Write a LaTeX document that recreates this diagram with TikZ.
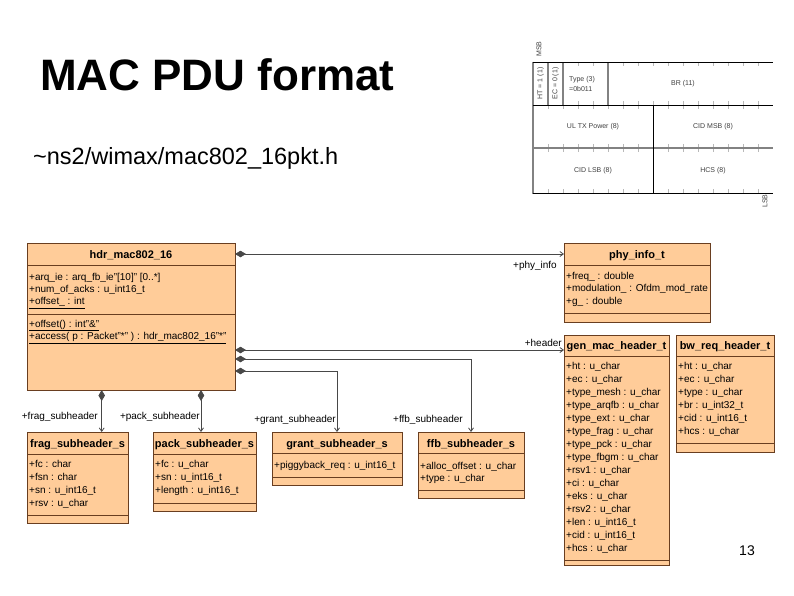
\documentclass[tikz,border=0pt]{standalone}
\usepackage{fontspec}
\setmainfont{Liberation Sans}
\usetikzlibrary{arrows.meta}
\definecolor{umlfill}{RGB}{255,204,153}
\definecolor{umlline}{RGB}{105,62,32}
\definecolor{conn}{RGB}{72,72,72}
\definecolor{gridgray}{RGB}{130,130,130}
\definecolor{tickgray}{RGB}{185,185,185}
\begin{document}
\begin{tikzpicture}[x=1pt,y=-1pt,
  classbox/.style={draw=umlline, fill=umlfill, line width=1pt, anchor=north west, inner sep=0pt, outer sep=0pt},
  sepline/.style={draw=umlline, line width=1pt},
  ctitle/.style={font=\fontsize{11}{13}\selectfont\bfseries, anchor=base, inner sep=0pt},
  attr/.style={font=\fontsize{10}{12}\selectfont, anchor=base west, inner sep=0pt},
  role/.style={font=\fontsize{10}{12}\selectfont, anchor=base east, inner sep=0pt},
  comp/.style={draw=conn, line width=0.8pt, {Diamond[length=11pt,width=6.5pt,fill=conn]}-{Straight Barb[length=3.5pt,width=5pt]}},
  fmt/.style={font=\fontsize{7}{8}\selectfont, inner sep=0pt, text=black!75},
  blackrule/.style={draw=black, line width=1pt},
  grayrule/.style={draw=gridgray, line width=1.6pt},
  tick/.style={draw=tickgray, line width=0.6pt}
]
\fill[white] (0,0) rectangle (794,595);
\useasboundingbox (0,0) rectangle (794,595);

% ---------- titles ----------
\node[anchor=base west, inner sep=0pt, font=\fontsize{44}{50}\selectfont\bfseries] (title) at (40,90) {MAC PDU format};
\node[anchor=base west, inner sep=0pt, font=\fontsize{23.5}{28}\selectfont] (subtitle) at (33,164) {\textasciitilde ns2/wimax/mac802\_16pkt.h};
\node[anchor=base, inner sep=0pt, font=\fontsize{14}{16}\selectfont] (pagenum) at (747,555) {13};

% ---------- header format figure ----------
\foreach \k in {1,...,15} {
  \draw[tick] (533+15*\k,62) -- ++(0,4);
  \draw[tick] (533+15*\k,105) -- ++(0,-4);
  \draw[tick] (533+15*\k,105) -- ++(0,4);
  \draw[tick] (533+15*\k,148) -- ++(0,-4);
  \draw[tick] (533+15*\k,148) -- ++(0,4);
  \draw[tick] (533+15*\k,193) -- ++(0,-4);
}
\draw[grayrule] (548,62) -- (548,105);
\draw[grayrule] (563,62) -- (563,105);
\draw[grayrule] (608,62) -- (608,105);
\draw[grayrule] (533,148) -- (773,148);
\draw[grayrule] (533,61.5) -- (533,193.5);
\draw[blackrule] (533,62) -- (773,62);
\draw[blackrule] (533,105) -- (773,105);
\draw[blackrule] (533,193) -- (773,193);
\draw[blackrule] (653,105) -- (653,193);
\node[fmt, rotate=90] (msb) at (539,49) {MSB};
\node[fmt, rotate=90] (lsb) at (765,201) {LSB};
\node[fmt, rotate=90] (ht) at (540.5,83.5) {HT = 1 (1)};
\node[fmt, rotate=90] (ec) at (555.5,83.5) {EC = 0 (1)};
\node[fmt, anchor=west] (type) at (569,79.5) {Type (3)};
\node[fmt, anchor=west] (typev) at (569,88.5) {=0b011};
\node[fmt] (br) at (683,84) {BR (11)};
\node[fmt] (ultx) at (593,127) {UL TX Power (8)};
\node[fmt] (cidmsb) at (713,127) {CID MSB (8)};
\node[fmt] (cidlsb) at (593,171) {CID LSB (8)};
\node[fmt] (hcs) at (713,171) {HCS (8)};

% ---------- class boxes ----------
\node[classbox, minimum width=208pt, minimum height=147pt] (hdr) at (27,243) {};
\draw[sepline] (27,265.7) -- (235,265.7);
\draw[sepline] (27,314) -- (235,314);
\node[ctitle] (hdrT) at (131,258) {hdr\_mac802\_16};
\node[attr] (hdr1) at (29,280.8) {+arq\_ie : arq\_fb\_ie"[10]" [0..*]};
\node[attr] (hdr2) at (29,292.6) {+num\_of\_acks : u\_int16\_t};
\node[attr] (hdr3) at (29,304.4) {\underline{+offset\_ : int}};
\node[attr] (hdr4) at (29,327) {\underline{+offset() : int"\&"}};
\node[attr] (hdr5) at (29,339.3) {\underline{+access( p : Packet"*" ) : hdr\_mac802\_16"*"}};

\node[classbox, minimum width=146pt, minimum height=79pt] (phy) at (564,243) {};
\draw[sepline] (564,265) -- (710,265);
\draw[sepline] (564,313.3) -- (710,313.3);
\node[ctitle] (phyT) at (637,258) {phy\_info\_t};
\node[attr] (phy1) at (566,279.3) {+freq\_ : double};
\node[attr] (phy2) at (566,291.9) {+modulation\_ : Ofdm\_mod\_rate};
\node[attr] (phy3) at (566,304.3) {+g\_ : double};

\node[classbox, minimum width=105pt, minimum height=230pt] (gen) at (564,335) {};
\draw[sepline] (564,356) -- (669,356);
\draw[sepline] (564,560) -- (669,560);
\node[ctitle] (genT) at (616.5,349.5) {gen\_mac\_header\_t};
\foreach \t [count=\i from 0] in {+ht : u\_char, +ec : u\_char, +type\_mesh : u\_char, +type\_arqfb : u\_char, +type\_ext : u\_char, +type\_frag : u\_char, +type\_pck : u\_char, +type\_fbgm : u\_char, +rsv1 : u\_char, +ci : u\_char, +eks : u\_char, +rsv2 : u\_char, +len : u\_int16\_t, +cid : u\_int16\_t, +hcs : u\_char}
  \node[attr] (gen\i) at (566,{369.3+13.04*\i}) {\t};

\node[classbox, minimum width=98pt, minimum height=117pt] (bw) at (676,335) {};
\draw[sepline] (676,356) -- (774,356);
\draw[sepline] (676,443.3) -- (774,443.3);
\node[ctitle] (bwT) at (725,349.5) {bw\_req\_header\_t};
\foreach \t [count=\i from 0] in {+ht : u\_char, +ec : u\_char, +type : u\_char, +br : u\_int32\_t, +cid : u\_int16\_t, +hcs : u\_char}
  \node[attr] (bw\i) at (678,{369.3+13.04*\i}) {\t};

\node[classbox, minimum width=101pt, minimum height=91pt] (frag) at (27,432) {};
\draw[sepline] (27,454) -- (128,454);
\draw[sepline] (27,515) -- (128,515);
\node[ctitle] (fragT) at (77.5,447) {frag\_subheader\_s};
\foreach \t [count=\i from 0] in {+fc : char, +fsn : char, +sn : u\_int16\_t, +rsv : u\_char}
  \node[attr] (frag\i) at (29,{467+13.3*\i}) {\t};

\node[classbox, minimum width=103pt, minimum height=79pt] (pack) at (153,432) {};
\draw[sepline] (153,454) -- (256,454);
\draw[sepline] (153,503) -- (256,503);
\node[ctitle] (packT) at (204.5,447) {pack\_subheader\_s};
\foreach \t [count=\i from 0] in {+fc : u\_char, +sn : u\_int16\_t, +length : u\_int16\_t}
  \node[attr] (pack\i) at (155,{467+13.3*\i}) {\t};

\node[classbox, minimum width=130pt, minimum height=53pt] (grant) at (272,432) {};
\draw[sepline] (272,453.5) -- (402,453.5);
\draw[sepline] (272,477) -- (402,477);
\node[ctitle] (grantT) at (337,447) {grant\_subheader\_s};
\node[attr] (grant1) at (274,468.6) {+piggyback\_req : u\_int16\_t};

\node[classbox, minimum width=106pt, minimum height=66pt] (ffb) at (418,432) {};
\draw[sepline] (418,453.5) -- (524,453.5);
\draw[sepline] (418,490) -- (524,490);
\node[ctitle] (ffbT) at (471,447) {ffb\_subheader\_s};
\node[attr] (ffb1) at (420,469.6) {+alloc\_offset : u\_char};
\node[attr] (ffb2) at (420,481.6) {+type : u\_char};

% ---------- connectors ----------
\coordinate (phyin) at ([yshift=-11pt]phy.north west);
\draw[comp] (hdr.east |- phyin) -- (phyin);
\coordinate (genin) at ([yshift=-15pt]gen.north west);
\draw[comp] (hdr.east |- genin) -- (genin);
\coordinate (ffbrow) at (300,359);
\draw[comp] (hdr.east |- ffbrow) -| (ffb.north);
\coordinate (grantrow) at (300,371);
\draw[comp] (hdr.east |- grantrow) -| (grant.north);
\coordinate (fragcol) at (101.7,410);
\draw[comp] (hdr.south -| fragcol) -- (frag.north -| fragcol);
\coordinate (packcol) at (201,410);
\draw[comp] (hdr.south -| packcol) -- (pack.north -| packcol);

% ---------- role labels ----------
\node[role] (rphy) at (557,268.6) {+phy\_info};
\node[role] (rhdr) at (562,346.6) {+header};
\node[role] (rfrag) at (98,419.6) {+frag\_subheader};
\node[role] (rpack) at (200,419.6) {+pack\_subheader};
\node[role] (rgrant) at (336,422.9) {+grant\_subheader};
\node[role] (rffb) at (463,422.9) {+ffb\_subheader};
\end{tikzpicture}
\end{document}
